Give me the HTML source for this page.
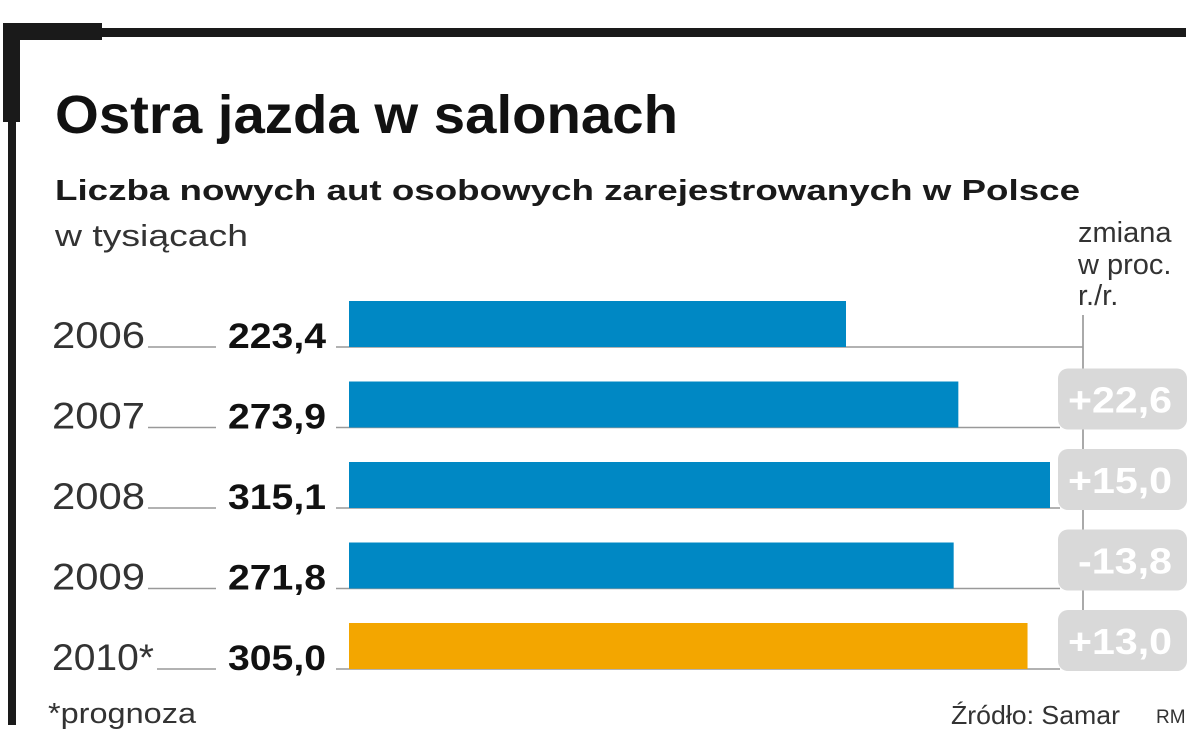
<!DOCTYPE html>
<html><head><meta charset="utf-8"><style>
html,body{margin:0;padding:0;background:#fff;}
svg{display:block;font-family:"Liberation Sans",sans-serif;}
</style></head><body>
<svg id="chart" width="1200" height="756" viewBox="0 0 1200 756">
<rect x="3" y="23" width="99" height="17" fill="#1a1a1a"/>
<rect x="3" y="28" width="1183" height="9" fill="#1a1a1a"/>
<rect x="3" y="23" width="17" height="99" fill="#1a1a1a"/>
<rect x="8" y="23" width="8" height="702" fill="#1a1a1a"/>
<text x="55" y="133" font-size="54" font-weight="bold" fill="#111" textLength="623" lengthAdjust="spacingAndGlyphs">Ostra jazda w salonach</text>
<text x="55" y="200" font-size="29" font-weight="bold" fill="#1a1a1a" textLength="1025" lengthAdjust="spacingAndGlyphs">Liczba nowych aut osobowych zarejestrowanych w Polsce</text>
<text x="55" y="246" font-size="31" fill="#333" textLength="193" lengthAdjust="spacingAndGlyphs">w tysiącach</text>
<text font-size="29" fill="#333"><tspan x="1078" y="242">zmiana</tspan><tspan x="1078" y="274">w proc.</tspan><tspan x="1078" y="305">r./r.</tspan></text>
<line x1="1083" y1="315" x2="1083" y2="615" stroke="#aaa" stroke-width="2"/>
<g id="rows"></g>
<text x="48" y="723" font-size="29" fill="#333" textLength="148" lengthAdjust="spacingAndGlyphs">*prognoza</text>
<text x="951" y="724" font-size="26" fill="#333" textLength="169" lengthAdjust="spacingAndGlyphs">Źródło: Samar</text>
<text x="1156" y="723" font-size="19" fill="#333">RM</text>
</svg>
<script>
const years = ["2006","2007","2008","2009","2010*"];
const values = [223.4, 273.9, 315.1, 271.8, 305.0];
const valueLabels = ["223,4","273,9","315,1","271,8","305,0"];
const changes = [null, "+22,6", "+15,0", "-13,8", "+13,0"];
const forecast = [false,false,false,false,true];

const ns = "http://www.w3.org/2000/svg";
const g = document.getElementById('rows');
const x0 = 349, pxPerUnit = 701/315.1;
const xScale = v => x0 + v * pxPerUnit;
const rowTop = i => 301 + i * 80.5;
function mk(tag, attrs, text){
  const e = document.createElementNS(ns, tag);
  for (const k in attrs) e.setAttribute(k, attrs[k]);
  if (text !== undefined) e.textContent = text;
  g.appendChild(e); return e;
}
years.forEach((yr, i) => {
  const t = rowTop(i), b = t + 46;
  const hasBox = changes[i] !== null;
  const yw = yr.length > 4 ? 102 : 93;
  const l1 = mk('line', {x1: 52 + yw + 3, y1: b, x2: 216, y2: b, stroke: '#999', 'stroke-width': 1.5});
  
  
  const l2 = mk('line', {x1: 336, y1: b, x2: hasBox ? 1060 : 1083, y2: b, stroke: '#999', 'stroke-width': 1.5});
  
  
  const bar = mk('rect', {x: x0, y: t, width: xScale(values[i]) - x0, height: 46, fill: forecast[i] ? '#f3a600' : '#0088c4'});
  
  
  const yl = mk('text', {x: 52, y: b + 1, 'font-size': 37, fill: '#333', textLength: yw, lengthAdjust: 'spacingAndGlyphs'}, yr);
  
  
  const vl = mk('text', {x: 326, y: b + 1, 'font-size': 35, 'font-weight': 'bold', fill: '#111', 'text-anchor': 'end', textLength: 98, lengthAdjust: 'spacingAndGlyphs'}, valueLabels[i]);
  
  
  if (hasBox) {
    const bx = mk('rect', {x: 1058, y: t - 13, width: 129, height: 61, rx: 10, fill: '#d9d9d9'});
    
    
    const ct = mk('text', {x: 1172, y: t + 31, 'font-size': 36, 'font-weight': 'bold', fill: '#fff', 'text-anchor': 'end', textLength: changes[i].startsWith('-') ? 94 : 104, lengthAdjust: 'spacingAndGlyphs'}, changes[i]);
    
    
  }
});
</script>
</body></html>
